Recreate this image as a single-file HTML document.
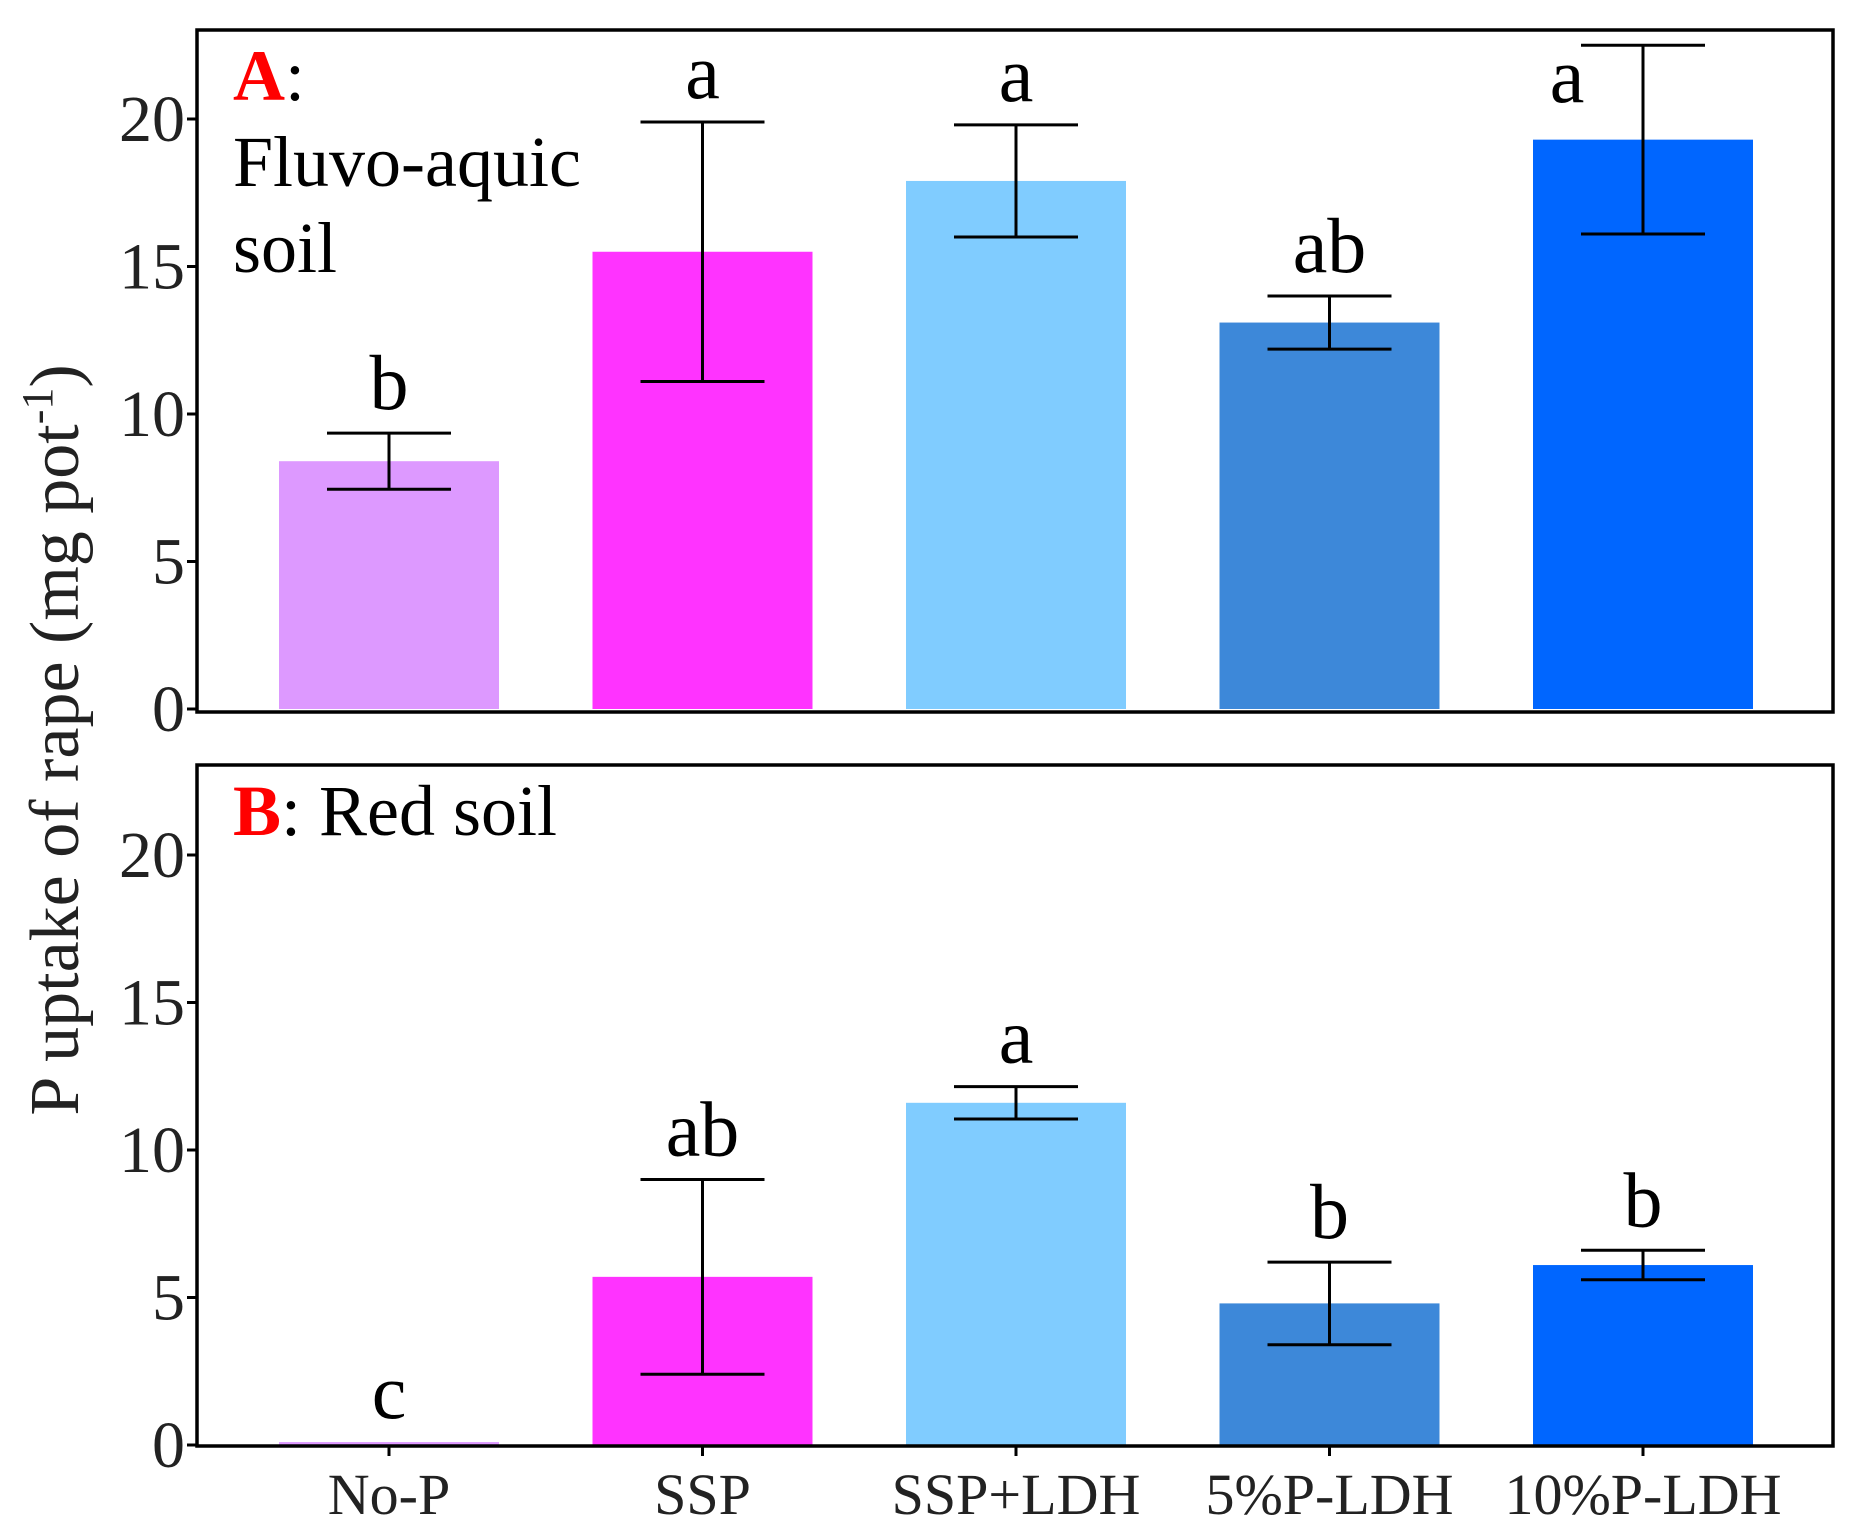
<!DOCTYPE html>
<html><head><meta charset="utf-8"><style>
html,body{margin:0;padding:0;background:#fff}
svg{display:block;font-family:"Liberation Serif",serif}
</style></head><body>
<svg id="chart" width="1859" height="1530" viewBox="0 0 1859 1530"></svg>
<script>
const categories=["No-P","SSP","SSP+LDH","5%P-LDH","10%P-LDH"];
const colors=["#dd99ff","#ff33ff","#80ccff","#3d88d9","#0066ff"];
const valuesA=[8.4,15.5,17.9,13.1,19.3];
const errorsA=[0.95,4.4,1.9,0.9,3.2];
const lettersA=["b","a","a","ab","a"];
const valuesB=[0.1,5.7,11.6,4.8,6.1];
const errorsB=[0,3.3,0.55,1.4,0.5];
const lettersB=["c","ab","a","b","b"];
const yTicks=[0,5,10,15,20];
const NS="http://www.w3.org/2000/svg";
const svg=document.getElementById('chart');
function mk(tag,attrs,parent){const e=document.createElementNS(NS,tag);for(const k in attrs)e.setAttribute(k,attrs[k]);(parent||svg).appendChild(e);return e;}
const left=197,right=1833,bw=220;
function xPos(i){return 389+i*313.5;}
function panel(name,top,bottom,y0,vals,errs,lets,label,rest,showX){
  const ppu=29.5;
  const y=v=>y0-v*ppu;
  const g=mk('g',{});
  
  
  vals.forEach((v,i)=>{
    const r=mk('rect',{x:xPos(i)-bw/2,y:y(v),width:bw,height:y0-y(v),fill:colors[i]},g);
    
    
    if(errs[i]>0){
      const eg=mk('g',{stroke:'#000','stroke-width':3,fill:'none'},g);
      
      
      const hi=y(v+errs[i]),lo=y(v-errs[i]),cx=xPos(i);
      mk('line',{x1:cx,x2:cx,y1:hi,y2:lo},eg);
      mk('line',{x1:cx-62,x2:cx+62,y1:hi,y2:hi},eg);
      mk('line',{x1:cx-62,x2:cx+62,y1:lo,y2:lo},eg);
    }
    let lx=xPos(i),ly=y(v+errs[i])-24;
    if(ly<top+55){ly=top+72;lx=xPos(i)-76;}
    const t=mk('text',{x:lx,y:ly,'text-anchor':'middle','font-size':78},g);
    t.textContent=lets[i];
    
    
  });
  const fr=mk('rect',{x:left,y:top,width:right-left,height:bottom-top,fill:'none',stroke:'#000','stroke-width':3.5},g);
  
  
  yTicks.forEach(tv=>{
    mk('line',{x1:left-10,x2:left,y1:y(tv),y2:y(tv),stroke:'#000','stroke-width':3},g);
    const t=mk('text',{x:left-12,y:y(tv)+22,'text-anchor':'end','font-size':66,fill:'#222'},g);
    t.textContent=tv;
    
    
  });
  const pl=mk('text',{x:233,y:top+70,'font-size':72},g);
  
  
  const ts=mk('tspan',{fill:'#ff0000','font-weight':'bold'},pl);ts.textContent=label;
  const ts2=mk('tspan',{},pl);ts2.textContent=rest[0];
  for(let k=1;k<rest.length;k++){const tl=mk('tspan',{x:233,dy:86},pl);tl.textContent=rest[k];}
  if(showX){
    categories.forEach((c,i)=>{
      mk('line',{x1:xPos(i),x2:xPos(i),y1:bottom,y2:bottom+10,stroke:'#000','stroke-width':3},g);
      const t=mk('text',{x:xPos(i),y:bottom+68,'text-anchor':'middle','font-size':58,fill:'#222'},g);
      t.textContent=c;
      
      
    });
  }
}
panel('panel-a-fluvo-aquic',30,712,709,valuesA,errorsA,lettersA,'A',[':','Fluvo-aquic','soil'],false);
panel('panel-b-red-soil',765,1446,1445,valuesB,errorsB,lettersB,'B',[': Red soil'],true);
const yt=mk('text',{transform:'translate(78,740) rotate(-90)','text-anchor':'middle','font-size':70,fill:'#222'});


const a1=mk('tspan',{},yt);a1.textContent='P uptake of rape (mg pot';
const a2=mk('tspan',{dy:-26,'font-size':44},yt);a2.textContent='-1';
const a3=mk('tspan',{dy:26},yt);a3.textContent=')';
</script>
</body></html>
